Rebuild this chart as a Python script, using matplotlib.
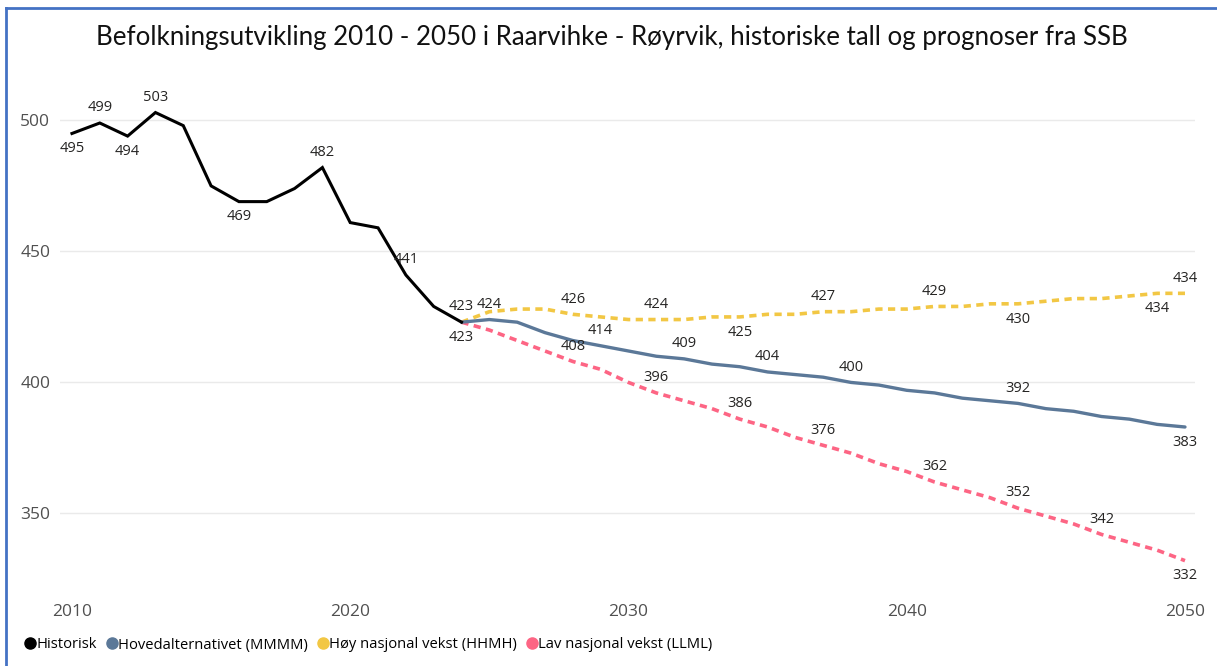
import matplotlib.pyplot as plt
from matplotlib.lines import Line2D

# data
hist_years = list(range(2010, 2025))
hist_vals = [495, 499, 494, 503, 498, 475, 469, 469, 474, 482, 461, 459, 441, 429, 423]

proj_years = list(range(2024, 2051))
main_vals = [423, 424, 423, 419, 416, 414, 412, 410, 409, 407, 406, 404, 403, 402,
             400, 399, 397, 396, 394, 393, 392, 390, 389, 387, 386, 384, 383]
high_vals = [423, 427, 428, 428, 426, 425, 424, 424, 424, 425, 425, 426, 426, 427,
             427, 428, 428, 429, 429, 430, 430, 431, 432, 432, 433, 434, 434]
low_vals = [423, 420, 416, 412, 408, 405, 400, 396, 393, 390, 386, 383, 379, 376,
            373, 369, 366, 362, 359, 356, 352, 349, 346, 342, 339, 336, 332]

x_ticks = [2010, 2020, 2030, 2040, 2050]
y_ticks = [350, 400, 450, 500]

names = ["Historisk", "Hovedalternativet (MMMM)",
         "Høy nasjonal vekst (HHMH)", "Lav nasjonal vekst (LLML)"]
colors = ["#000000", "#5B7898", "#F2C744", "#FD6584"]

# which points get a value label, and on which side
hist_labels = [(2010, -1), (2011, 1), (2012, -1), (2013, 1), (2016, -1),
               (2019, 1), (2022, 1), (2024, 1)]
main_labels = [(2024, -1), (2025, 1), (2029, 1), (2032, 1), (2035, 1),
               (2038, 1), (2044, 1), (2050, -1)]
high_labels = [(2028, 1), (2031, 1), (2034, -1), (2037, 1), (2041, 1),
               (2044, -1), (2049, -1), (2050, 1)]
low_labels = [(2028, 1), (2031, 1), (2034, 1), (2037, 1), (2041, 1),
              (2044, 1), (2047, 1), (2050, -1)]

label_font = "Open Sans"

fig = plt.figure(figsize=(12.17, 6.66), dpi=100)
ax = fig.add_axes([60 / 1217, 1 - 590 / 666, 1135 / 1217, 505 / 666])

ax.plot(proj_years, high_vals, color=colors[2], lw=2.6,
        linestyle=(0, (2.0, 1.5)), dash_capstyle="butt", zorder=3)
ax.plot(proj_years, low_vals, color=colors[3], lw=2.6,
        linestyle=(0, (2.0, 1.5)), dash_capstyle="butt", zorder=3)
ax.plot(proj_years, main_vals, color=colors[1], lw=2.4, zorder=4,
        solid_capstyle="round", solid_joinstyle="round")
ax.plot(hist_years, hist_vals, color=colors[0], lw=2.2, zorder=5,
        solid_joinstyle="miter")


def put_labels(years, vals, specs):
    for yr, side in specs:
        v = vals[years.index(yr)]
        ax.annotate(str(v), (yr, v), xytext=(0, 11 * side),
                    textcoords="offset points", ha="center", va="center",
                    fontsize=10.5, color="#252423", family=label_font,
                    zorder=6)


put_labels(hist_years, hist_vals, hist_labels)
put_labels(proj_years, main_vals, main_labels)
put_labels(proj_years, high_vals, high_labels)
put_labels(proj_years, low_vals, low_labels)

ax.set_xlim(2009.57, 2050.36)
ax.set_ylim(320.8, 513.5)
ax.set_xticks(x_ticks)
ax.set_yticks(y_ticks)
ax.grid(axis="y", color="#EAEAEA", lw=1)
ax.set_axisbelow(True)
for s in ax.spines.values():
    s.set_visible(False)
ax.tick_params(length=0, labelsize=12.5, labelcolor="#505050")
ax.tick_params(axis="x", pad=10)
ax.tick_params(axis="y", pad=7)
for lab in ax.get_xticklabels() + ax.get_yticklabels():
    lab.set_family(label_font)

fig.text(612 / 1217, 1 - 38 / 666,
         "Befolkningsutvikling 2010 - 2050 i Raarvihke - Røyrvik, historiske tall og prognoser fra SSB",
         ha="center", va="center", fontsize=18.6, family="Lato", color="#111111")

handles = [Line2D([], [], marker="o", ls="none", color=c, markersize=8)
           for c in colors]
fig.legend(handles, names, loc="center left", bbox_to_anchor=(14 / 1217, 1 - 645 / 666),
           ncol=4, frameon=False, handletextpad=-0.2, columnspacing=0.45,
           handlelength=1.2, borderpad=0,
           prop={"family": label_font, "size": 10.6})

# blue frame on top and left edge
fig.add_artist(Line2D([6 / 1217, 1], [1 - 8 / 666, 1 - 8 / 666],
                      color="#4472C4", lw=2, transform=fig.transFigure))
fig.add_artist(Line2D([6 / 1217, 6 / 1217], [0, 1 - 8 / 666],
                      color="#4472C4", lw=2, transform=fig.transFigure))

plt.savefig("out.png", dpi=100)
plt.close()
